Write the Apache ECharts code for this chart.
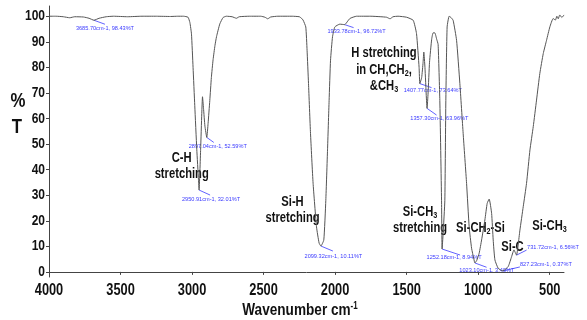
<!DOCTYPE html>
<html><head><meta charset="utf-8">
<script src="https://cdn.jsdelivr.net/npm/echarts@6/dist/echarts.min.js"></script>
<style>html,body{margin:0;padding:0;background:#fff}#c{width:587px;height:320px}</style>
</head><body><div id="c"></div>
<script>
// ---- data ----
const wavenumbers = [4000,3950,3900,3855,3820,3760,3720,3685.7,3650,3600,3550,3450,3350,3250,3150,3100,3060,3028,3015,3004,2993,2981,2967,2955,2950.91,2940,2932,2927,2920,2910,2897.04,2888,2876,2865,2853,2840,2829,2806,2783,2760,2720,2690,2670,2600,2520,2490,2471,2450,2400,2300,2250,2235,2224,2205,2196,2186,2172,2154,2130,2112,2099.32,2079,2065,2053,2042,2032,2018,2002,1967,1933.78,1897,1850,1750,1680,1640,1616,1595,1560,1500,1454,1431,1413,1407.77,1395,1385,1380,1372,1362,1357.3,1350,1340,1325,1315,1303,1290,1280,1268,1256,1252.18,1245,1233,1226,1217,1203,1190,1175,1151,1128,1105,1081,1063,1046,1030,1023.1,1010,993,976,953,937,923,906,895,883,860,827.23,790,766,750,740,731.72,708,685,662,638,615,592,569,545,522,499,476,460,450,440,430,415,400];
const transmittance = [100,100,99.8,99.4,99.8,99.7,99.2,98.43,99.2,99.8,100,99.8,100,100,99.9,100,100,99.6,97.5,93,80,65,48,36,32.01,48,62,68.5,64,57,52.59,58,67,76,83,88.5,92,97,99.5,100,99.8,99.2,99.8,100,100,99.6,99.0,99.7,100,100,99.8,99.2,98.5,95.8,86.7,73.7,54.2,34.7,17.6,11.3,10.11,12.5,28,47.7,67,82.8,92,95.8,96.9,96.72,99.1,100,100,99.8,99.6,99.0,99.8,100,99.6,98.4,93.2,80,73.64,76,82,86,80,68,63.96,70,82,91,93.5,93.5,91,89,67,28,8.94,15,28,67,95.8,100,99.5,98.4,90.6,73.7,54.2,34.6,17.7,9.25,5,3.49,4.5,7.3,12.5,20.3,26.8,28.5,22.9,12.5,4.7,1.4,0.37,2.1,6,8.6,7.5,6.56,16.4,25.5,34.6,47.7,56.8,67.2,77.6,85.4,90.6,95.8,99.1,98.5,100,99,100.5,99.5,100.5];
const xTickValues = [4000,3500,3000,2500,2000,1500,1000,500];
const yTickValues = [0,10,20,30,40,50,60,70,80,90,100];
const peakWn = [3685.70,2950.91,2897.04,2099.32,1933.78,1407.77,1357.30,1252.18,1023.10,827.23,731.72];
const peakT  = [98.43,32.01,52.59,10.11,96.72,73.64,63.96,8.94,3.49,0.37,6.56];
const peakText = peakWn.map((w,i)=> w.toFixed(2)+'cm-1, '+peakT[i].toFixed(2)+'%T');
const bandLabels = [
  ['C-H','stretching'],
  ['Si-H','stretching'],
  ['H stretching','in CH,CH{s|2},','&CH{s|3}'],
  ['Si-CH{s|3}','stretching'],
  ['Si-CH{s|2}-Si'],
  ['Si-C'],
  ['Si-CH{s|3}']
];
const xTitle = 'Wavenumber cm';
const yTitle = ['%','T'];

// ---- layout (annotation placement, pixels) ----
const leaderEnd = [[11,4],[11,5],[7,5],[12,5],[9,3],[11.7,4],[9.5,6.7],[18,6],[11.7,4.3],[17,-4],[10,-5]];
const textOff  = [[11,8],[12,9],[11,9],[12.5,10],[12,7.3],[13,6.5],[12.3,10],[12,8.6],[12,7.7],[43,-6.7],[36.5,-7.5]];
const bandPos = [[181.7,158],[292.5,201.7],[384,53.3],[420,211.7],[480.5,228.3],[512.5,246.7],[549.5,226]];
const lineGap = 16.5;
const SX = 0.8;

const FONT = '"Liberation Sans",Arial,sans-serif';
const chart = echarts.init(document.getElementById('c'), null, {renderer:'canvas'});
const axisCol = '#444';
chart.setOption({
  animation:false,
  backgroundColor:'#fff',
  grid:{left:49,right:23,top:6,bottom:43,containLabel:false},
  xAxis:{type:'value',min:400,max:4000,inverse:true,
    axisLine:{show:true,lineStyle:{color:axisCol,width:1}},
    axisTick:{show:true,length:3,customValues:xTickValues,lineStyle:{color:axisCol}},
    axisLabel:{show:false},
    splitLine:{show:false}},
  yAxis:{type:'value',min:-2,max:104,
    axisLine:{show:true,lineStyle:{color:axisCol,width:1}},
    axisTick:{show:true,length:3,customValues:yTickValues,lineStyle:{color:axisCol}},
    axisLabel:{show:false},
    splitLine:{show:false}},
  series:[{type:'line',data:wavenumbers.map((w,i)=>[w,transmittance[i]]),
    showSymbol:false,smooth:0.15,lineStyle:{color:'#555',width:1},clip:false}]
});

const g = [];
const blue = '#3a3aff';
function txt(x,y,text,size,align,extra){
  return Object.assign({type:'text',x:x,y:y,scaleX:SX,silent:true,
    style:{text:text,fill:'#111',fontSize:size,fontWeight:'bold',fontFamily:FONT,align:align||'center',verticalAlign:'middle'}},extra||{});
}
// tick labels placed through the axis scales
xTickValues.forEach(v=>{
  const p = chart.convertToPixel({xAxisIndex:0},v);
  g.push(txt(p,291,String(v),16,'center'));
});
yTickValues.forEach(v=>{
  const p = chart.convertToPixel({yAxisIndex:0},v);
  g.push(txt(45,p,String(v),15,'right'));
});
peakWn.forEach((w,i)=>{
  const p = chart.convertToPixel({seriesIndex:0},[w,peakT[i]]);
  const e = leaderEnd[i], t = textOff[i];
  g.push({type:'line',shape:{x1:p[0],y1:p[1],x2:p[0]+e[0],y2:p[1]+e[1]},style:{stroke:blue,lineWidth:0.8},silent:true});
  g.push({type:'text',x:p[0]+t[0],y:p[1]+t[1],style:{text:peakText[i],fill:blue,font:'5.6px "Liberation Sans",Arial,sans-serif',align:'center',verticalAlign:'middle'},silent:true});
});
const rich = {s:{fontSize:9,fontWeight:'bold',fontFamily:FONT,fill:'#111',padding:[7,0,0,0]}};
bandLabels.forEach((lines,i)=>{
  lines.forEach((ln,j)=>{
    const t = txt(bandPos[i][0],bandPos[i][1]+j*lineGap,ln,14,'center');
    t.style.rich = rich;
    g.push(t);
  });
});
const tt = txt(300,310,xTitle+'{sup|-1}',17,'center');
tt.style.rich = {sup:{fontSize:10,fontWeight:'bold',fontFamily:FONT,fill:'#111',padding:[0,0,8,0]}};
g.push(tt);
g.push(txt(18,101,yTitle[0],21,'center'));
g.push(txt(17,127,yTitle[1],21,'center'));
chart.setOption({graphic:g});
</script></body></html>
